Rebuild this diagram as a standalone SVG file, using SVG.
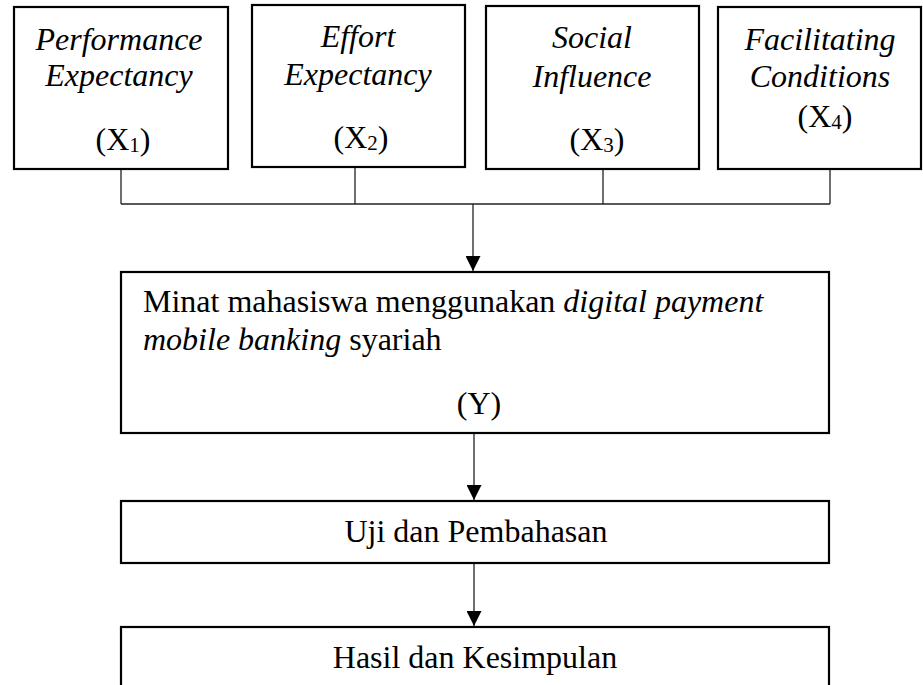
<svg xmlns="http://www.w3.org/2000/svg" width="923" height="685" viewBox="0 0 923 685">
<style>
  .box { fill: #ffffff; stroke: #000000; stroke-width: 2.2; }
  .t { font-family: "Liberation Serif", "Times New Roman", serif; font-size: 32px; fill: #000000; }
  .c { text-anchor: middle; }
  .i { font-style: italic; }
  .sub { font-size: 21px; }
  .line { fill: none; stroke: #222222; stroke-width: 1.3; }
</style>
<defs>
  <marker id="arrow" markerUnits="userSpaceOnUse" markerWidth="15" markerHeight="15" refX="15" refY="7.5" orient="auto">
    <path d="M0,0 L15,7.5 L0,15 Z" fill="#000000"/>
  </marker>
</defs>
<rect width="923" height="685" fill="#ffffff"/>

<g id="connectors">
  <path class="line" d="M121,169 V204 M355,167 V204 M603,169 V204 M830,169 V204 M121,204 H830"/>
  <line class="line" x1="473" y1="204" x2="473" y2="271" marker-end="url(#arrow)"/>
  <line class="line" x1="474" y1="433" x2="474" y2="500" marker-end="url(#arrow)"/>
  <line class="line" x1="474" y1="563" x2="474" y2="626" marker-end="url(#arrow)"/>
</g>

<g id="x1">
  <rect class="box" x="14" y="7" width="214" height="162"/>
  <text class="t c i" x="119" y="50">Performance</text>
  <text class="t c i" x="119" y="86">Expectancy</text>
  <text class="t c" x="123" y="150">(X<tspan class="sub" dy="2">1</tspan><tspan dy="-2">)</tspan></text>
</g>

<g id="x2">
  <rect class="box" x="252" y="5" width="213" height="162"/>
  <text class="t c i" x="358" y="47">Effort</text>
  <text class="t c i" x="358" y="85">Expectancy</text>
  <text class="t c" x="361" y="148">(X<tspan class="sub" dy="2">2</tspan><tspan dy="-2">)</tspan></text>
</g>

<g id="x3">
  <rect class="box" x="486" y="6" width="213" height="163"/>
  <text class="t c i" x="592" y="48">Social</text>
  <text class="t c i" x="592" y="87">Influence</text>
  <text class="t c" x="597" y="150">(X<tspan class="sub" dy="2">3</tspan><tspan dy="-2">)</tspan></text>
</g>

<g id="x4">
  <rect class="box" x="718" y="7" width="203" height="162"/>
  <text class="t c i" x="820" y="50">Facilitating</text>
  <text class="t c i" x="820" y="87">Conditions</text>
  <text class="t c" x="825" y="127">(X<tspan class="sub" dy="2">4</tspan><tspan dy="-2">)</tspan></text>
</g>

<g id="y">
  <rect class="box" x="121" y="272" width="708" height="161"/>
  <text class="t" x="143" y="312">Minat mahasiswa menggunakan <tspan class="i">digital payment</tspan></text>
  <text class="t" x="143" y="350"><tspan class="i">mobile banking</tspan> syariah</text>
  <text class="t c" x="479" y="414">(Y)</text>
</g>

<g id="uji">
  <rect class="box" x="121" y="501" width="708" height="62"/>
  <text class="t c" x="476" y="542">Uji dan Pembahasan</text>
</g>

<g id="hasil">
  <rect class="box" x="121" y="627" width="708" height="80"/>
  <text class="t c" x="475" y="668">Hasil dan Kesimpulan</text>
</g>
</svg>
